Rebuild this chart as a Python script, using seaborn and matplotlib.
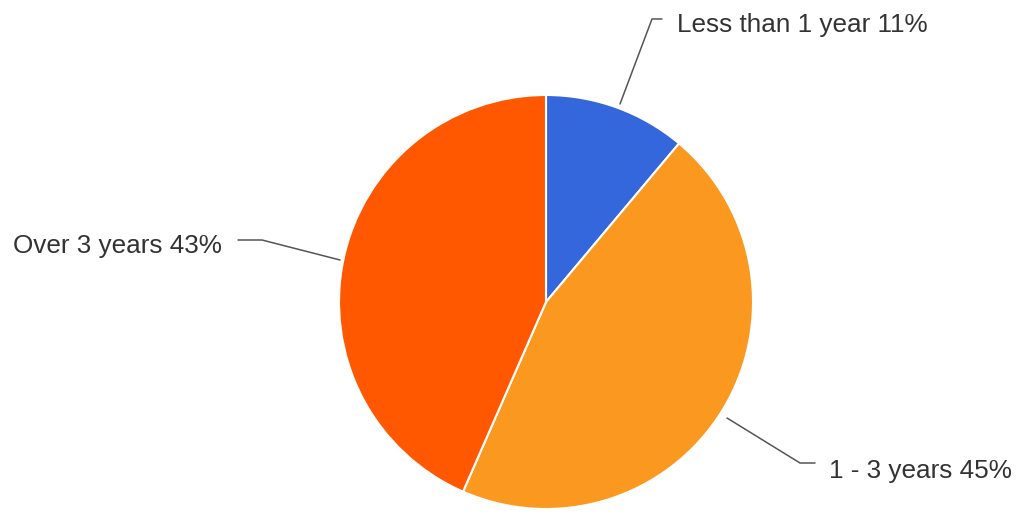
import matplotlib
matplotlib.use("Agg")
import matplotlib.pyplot as plt
import seaborn as sns

sns.set_theme(style="white")
plt.rcParams['font.family'] = ['Liberation Sans', 'DejaVu Sans']

categories = ["Less than 1 year", "1 - 3 years", "Over 3 years"]
values = [11, 45, 43]
colors = ["#3467DB", "#FA981F", "#FF5800"]

W, H = 1017, 516
fig = plt.figure(figsize=(W / 100, H / 100), dpi=100)
ax = fig.add_axes([0, 0, 1, 1])

cx, cy, r = 546, H - 302, 207
ax.pie(values, colors=colors, startangle=90, counterclock=False,
       center=(cx, cy), radius=r, frame=True,
       wedgeprops=dict(edgecolor="white", linewidth=1.5))
ax.set_xlim(0, W)
ax.set_ylim(0, H)
ax.set_aspect("equal")
ax.axis("off")

def py(y):
    return H - y

# leader lines (pixel coordinates of the layout)
leaders = [
    [(620, 104), (652, 19), (662, 19)],
    [(727, 418), (800, 463), (815, 463)],
    [(340, 260), (262, 240), (238, 240)],
]
for pts in leaders:
    xs = [p[0] for p in pts]
    ys = [py(p[1]) for p in pts]
    ax.plot(xs, ys, color="#555555", linewidth=1.1)

label_pos = [(677, 32, "left"), (829, 478, "left"), (222, 253, "right")]
for (x, y, ha), cat, v in zip(label_pos, categories, values):
    ax.text(x, py(y), f"{cat} {v}%", ha=ha, va="baseline",
            fontsize=18.8, color="#333333")

fig.savefig("out.png", dpi=100)
